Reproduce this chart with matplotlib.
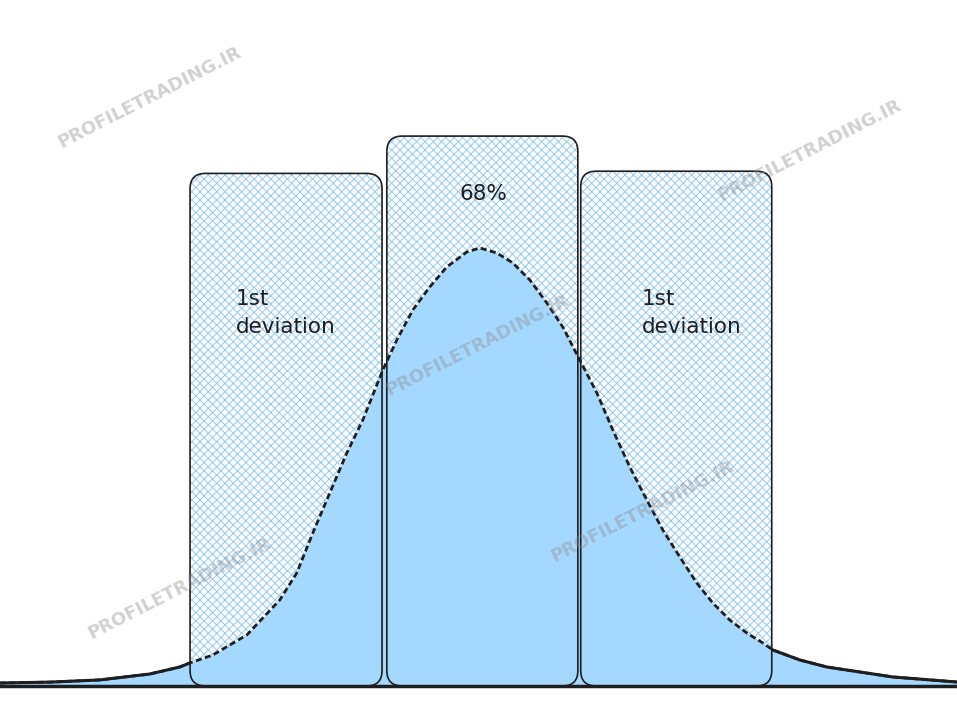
import numpy as np
import matplotlib
matplotlib.use("Agg")
import matplotlib.pyplot as plt
from matplotlib.patches import FancyBboxPatch, Rectangle

# bell curve (x in sigma-ish units, y = height)
curve_x = [-5.031, -4.51, -3.990, -3.469, -3.156, -3.052, -2.813, -2.458,
           -2.115, -1.938, -1.771, -1.594, -1.417, -1.250, -1.042, -0.896,
           -0.729, -0.552, -0.375, -0.167, -0.031, 0.146, 0.313, 0.490,
           0.667, 0.833, 1.010, 1.188, 1.354, 1.531, 1.708, 1.875, 2.052,
           2.229, 2.396, 2.573, 2.750, 2.917, 3.021, 3.302, 3.583, 4.271,
           4.938]
curve_y = [0.0027, 0.0035, 0.0055, 0.0109, 0.0173, 0.0210, 0.0282, 0.0465,
           0.0784, 0.1030, 0.1394, 0.1759, 0.2123, 0.2424, 0.2879, 0.3153,
           0.3426, 0.3636, 0.3818, 0.3954, 0.3991, 0.3945, 0.3854, 0.3699,
           0.3490, 0.3271, 0.2970, 0.2670, 0.2333, 0.1995, 0.1695, 0.1421,
           0.1175, 0.0938, 0.0756, 0.0601, 0.0483, 0.0392, 0.0328, 0.0237,
           0.0173, 0.0082, 0.0036]

# deviation bands
band_left = [-3.05, -1.0, 1.02]
band_right = [-1.05, 0.99, 3.01]
band_top = [0.467, 0.501, 0.469]
band_labels = ["1st\ndeviation", "68%", "1st\ndeviation"]

watermark = "PROFILETRADING.IR"
wm_pos = [(150, 97), (810, 150), (478, 345), (643, 511), (180, 588)]  # pixels

BLUE = "#a5d8ff"
HATCH = "#92c9f6"
INK = "#1e1e1e"

plt.rcParams["hatch.linewidth"] = 0.7

fig = plt.figure(figsize=(9.57, 7.01), dpi=100)
ax = fig.add_axes([0, 0, 1, 1])
ax.set_xlim(-5.03, 4.94)
ax.set_ylim(-0.0137, 0.625)
ax.axis("off")

# px per unit, used to keep the corners round
aspect = 96.0 / 1097.5

for x0, x1, top in zip(band_left, band_right, band_top):
    hatch = FancyBboxPatch((x0, 0), x1 - x0, top,
                           boxstyle="round,pad=0,rounding_size=0.16",
                           mutation_aspect=aspect, facecolor="white",
                           edgecolor=HATCH, hatch="xxxx", lw=0, zorder=1)
    ax.add_patch(hatch)
    edge = FancyBboxPatch((x0, 0), x1 - x0, top,
                          boxstyle="round,pad=0,rounding_size=0.16",
                          mutation_aspect=aspect, fill=False,
                          edgecolor=INK, lw=1.2, zorder=3)
    ax.add_patch(edge)

ax.fill_between(curve_x, 0, curve_y, color=BLUE, lw=0, zorder=2)

# dashed inside the bands, solid outside
ax.plot(curve_x, curve_y, color=INK, lw=2, ls=(0, (2.2, 1.2)), zorder=4)
for clip in [Rectangle((-6, -1), 6 - 3.05, 2), Rectangle((3.01, -1), 3, 2)]:
    ln, = ax.plot(curve_x, curve_y, color=INK, lw=2.2, zorder=4,
                  solid_capstyle="round")
    clip.set_transform(ax.transData)
    ln.set_clip_path(clip)

ax.axhline(0, color=INK, lw=2.5, zorder=4)

# labels
for x in (-2.57, 1.66):
    ax.text(x, 0.347, "1st", fontsize=15.5, color=INK, ha="left",
            va="baseline", zorder=5)
    ax.text(x, 0.322, "deviation", fontsize=15.5, color=INK, ha="left",
            va="baseline", zorder=5)
ax.text(0.01, 0.443, band_labels[1], fontsize=15.5, color=INK, ha="center",
        va="baseline", zorder=5)

for px, py in wm_pos:
    fig.text(px / 957, 1 - py / 701, watermark, fontsize=13,
             fontweight="bold", color="#8c8c8c", alpha=0.4, rotation=27,
             ha="center", va="center", rotation_mode="anchor", zorder=6)

fig.savefig("out.png", dpi=100, facecolor="white")
